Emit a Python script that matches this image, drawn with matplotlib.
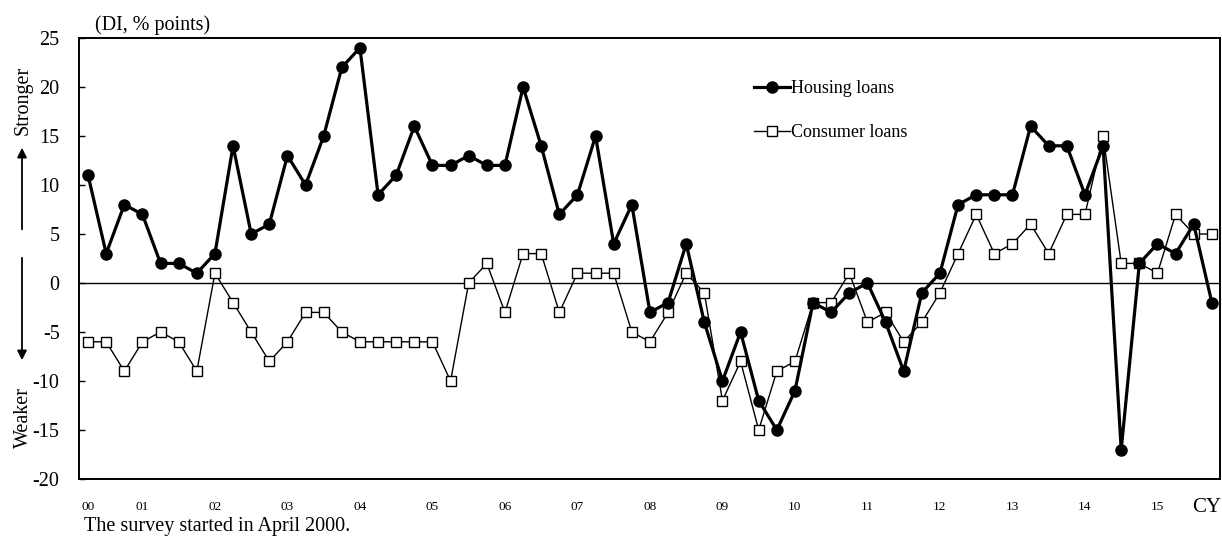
import matplotlib
matplotlib.use("Agg")
import matplotlib.pyplot as plt
import numpy as np

plt.rcParams['font.family'] = ['Liberation Serif', 'DejaVu Serif']
plt.rcParams['axes.unicode_minus'] = False

# quarterly DI, starting April 2000 (2000Q2) to 2015Q4
housing = [11, 3, 8, 7, 2, 2, 1, 3, 14, 5, 6, 13, 10, 15, 22, 24,
           9, 11, 16, 12, 12, 13, 12, 12, 20, 14, 7, 9, 15, 4, 8, -3,
           -2, 4, -4, -10, -5, -12, -15, -11, -2, -3, -1, 0, -4, -9, -1, 1,
           8, 9, 9, 9, 16, 14, 14, 9, 14, -17, 2, 4, 3, 6, -2]
consumer = [-6, -6, -9, -6, -5, -6, -9, 1, -2, -5, -8, -6, -3, -3, -5, -6,
            -6, -6, -6, -6, -10, 0, 2, -3, 3, 3, -3, 1, 1, 1, -5, -6,
            -3, 1, -1, -12, -8, -15, -9, -8, -2, -2, 1, -4, -3, -6, -4, -1,
            3, 7, 3, 4, 6, 3, 7, 7, 15, 2, 2, 1, 7, 5, 5]
year_labels = ["00", "01", "02", "03", "04", "05", "06", "07",
               "08", "09", "10", "11", "12", "13", "14", "15"]
# "00" sits on the first survey (Apr 2000), the others on each Q1
year_pos = [0] + [3 + 4 * k for k in range(15)]

x = np.arange(len(housing))

fig = plt.figure(figsize=(12.22, 5.38), dpi=100)
ax = fig.add_axes([79 / 1222, 1 - 479 / 538, 1141 / 1222, 441 / 538])

ax.axhline(0, color='black', lw=1.0, zorder=1)
ax.plot(x, consumer, color='black', lw=1.0, marker='s', ms=7,
        mfc='white', mec='black', mew=1.0, label='Consumer loans', zorder=3)
ax.plot(x, housing, color='black', lw=2.3, marker='o', ms=8,
        mfc='black', mec='black', label='Housing loans', zorder=4)

ax.set_xlim(-0.5, 62.45)
ax.set_ylim(-20, 25)
ax.set_yticks(range(-20, 26, 5))
ax.set_xticks(year_pos)
ax.set_xticklabels(year_labels, fontsize=9.5)
ax.tick_params(axis='x', length=0, pad=16)
ax.tick_params(axis='y', direction='in', length=4, width=1, labelsize=14.5, pad=14)
for s in ax.spines.values():
    s.set_linewidth(1.4)

handles, labels = ax.get_legend_handles_labels()
leg = ax.legend(handles[::-1], labels[::-1], loc='upper left',
                bbox_to_anchor=(0.592, 0.905), frameon=False, fontsize=13,
                handlelength=1.95, handletextpad=0.1, labelspacing=1.5,
                borderpad=0, borderaxespad=0)

fig.text(95 / 1222, 1 - 25 / 538, "(DI, % points)", fontsize=14.5, va='center', ha='left')
fig.text(1207 / 1222, 1 - 508 / 538, "CY", fontsize=15, va='center', ha='center')
fig.text(84 / 1222, 1 - 527 / 538, "The survey started in April 2000.",
         fontsize=14.5, va='center', ha='left')

fig.text(23 / 1222, 1 - 100 / 538, "Stronger", rotation=90, fontsize=14.5,
         va='center', ha='center')
fig.text(23 / 1222, 1 - 418 / 538, "Weaker", rotation=90, fontsize=14.5,
         va='center', ha='center')
fig.add_artist(matplotlib.patches.FancyArrowPatch(
    (22 / 1222, 1 - 232 / 538), (22 / 1222, 1 - 145 / 538),
    transform=fig.transFigure, arrowstyle='-|>', mutation_scale=14,
    color='black', lw=1.3))
fig.add_artist(matplotlib.patches.FancyArrowPatch(
    (22 / 1222, 1 - 255 / 538), (22 / 1222, 1 - 363 / 538),
    transform=fig.transFigure, arrowstyle='-|>', mutation_scale=14,
    color='black', lw=1.3))

fig.savefig("out.png", dpi=100)
